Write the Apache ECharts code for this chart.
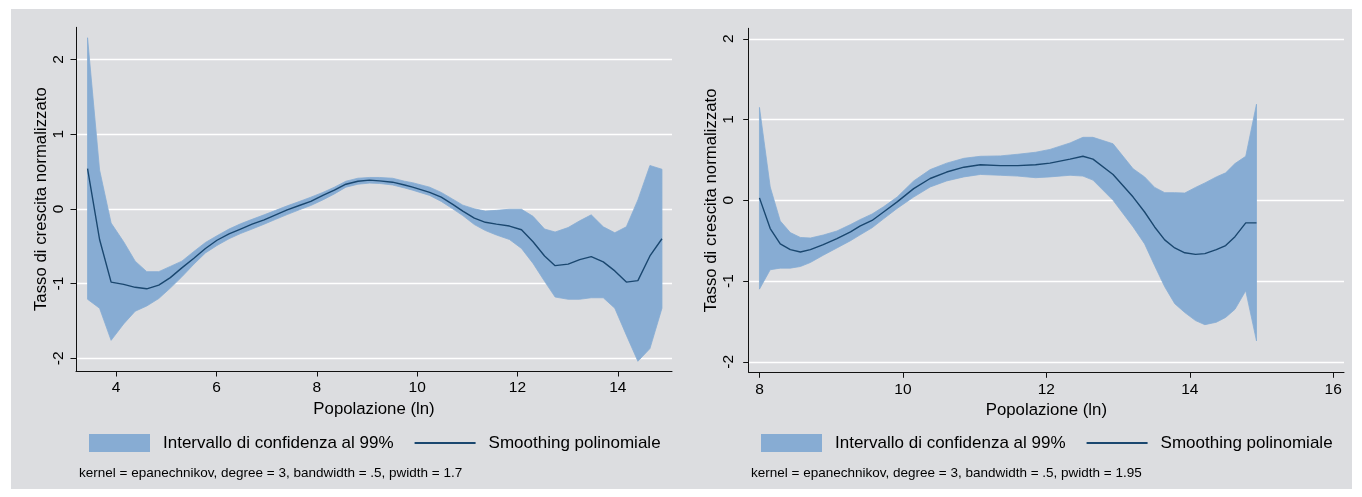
<!DOCTYPE html>
<html>
<head>
<meta charset="utf-8">
<script src="https://cdn.jsdelivr.net/npm/echarts@6/dist/echarts.min.js"></script>
<style>
  html, body { margin: 0; padding: 0; background: #ffffff; }
  #bg { position: absolute; left: 11px; top: 9px; width: 1341px; height: 480px; background: #dcdde0; }
  #chart { position: absolute; left: 0; top: 0; width: 1362px; height: 497px; }
</style>
</head>
<body>
<div id="bg"></div>
<div id="chart"></div>
<script>
// ---------- data ----------
const leftX = [3.43, 3.67, 3.90, 4.15, 4.38, 4.61, 4.85, 5.08, 5.31, 5.55, 5.78, 6.01, 6.25, 6.48, 6.71, 6.95, 7.18, 7.41, 7.65, 7.88,
  8.12, 8.35, 8.58, 8.82, 9.05, 9.25, 9.51, 9.75, 9.91, 10.25, 10.48, 10.71, 10.91, 11.14, 11.36, 11.58, 11.84, 12.08, 12.31, 12.54,
  12.75, 13.01, 13.24, 13.47, 13.71, 13.94, 14.17, 14.40, 14.64, 14.88];
const leftFit = [0.54, -0.41, -0.98, -1.01, -1.05, -1.07, -1.02, -0.92, -0.79, -0.66, -0.53, -0.42, -0.335, -0.27, -0.205, -0.147, -0.08, -0.013, 0.045, 0.10,
  0.18, 0.25, 0.33, 0.37, 0.385, 0.375, 0.357, 0.32, 0.29, 0.22, 0.156, 0.06, -0.03, -0.125, -0.18, -0.205, -0.23, -0.28, -0.44, -0.63,
  -0.76, -0.74, -0.68, -0.64, -0.71, -0.83, -0.98, -0.96, -0.63, -0.40];
const leftUpper = [2.29, 0.52, -0.19, -0.44, -0.70, -0.84, -0.84, -0.77, -0.70, -0.57, -0.45, -0.36, -0.27, -0.20, -0.14, -0.08, -0.02, 0.04, 0.098, 0.156,
  0.22, 0.29, 0.37, 0.41, 0.42, 0.42, 0.41, 0.37, 0.35, 0.29, 0.22, 0.13, 0.05, 0.0, -0.03, -0.02, -0.005, -0.005, -0.10, -0.27,
  -0.31, -0.25, -0.16, -0.08, -0.24, -0.32, -0.24, 0.12, 0.58, 0.53];
const leftLower = [-1.21, -1.33, -1.76, -1.54, -1.37, -1.30, -1.20, -1.06, -0.91, -0.74, -0.59, -0.49, -0.40, -0.33, -0.27, -0.205, -0.14, -0.076, -0.013, 0.045,
  0.12, 0.20, 0.29, 0.33, 0.345, 0.34, 0.32, 0.28, 0.25, 0.18, 0.10, 0.0, -0.09, -0.21, -0.29, -0.35, -0.41, -0.53, -0.73, -0.97,
  -1.18, -1.21, -1.21, -1.19, -1.19, -1.33, -1.69, -2.04, -1.87, -1.33];

const rightX = [8.00, 8.15, 8.29, 8.43, 8.57, 8.71, 8.89, 9.08, 9.27, 9.40, 9.57, 9.73, 9.92, 10.15, 10.38, 10.61, 10.85, 11.08, 11.36, 11.60,
  11.85, 12.05, 12.33, 12.51, 12.65, 12.93, 13.21, 13.37, 13.51, 13.65, 13.79, 13.93, 14.08, 14.21, 14.37, 14.50, 14.63, 14.78, 14.93];
const rightFit = [0.03, -0.35, -0.54, -0.61, -0.64, -0.61, -0.55, -0.475, -0.39, -0.32, -0.25, -0.145, -0.02, 0.145, 0.27, 0.35, 0.41, 0.44, 0.43, 0.43,
  0.44, 0.46, 0.51, 0.545, 0.51, 0.32, 0.04, -0.145, -0.33, -0.49, -0.59, -0.65, -0.67, -0.66, -0.61, -0.56, -0.45, -0.28, -0.28];
const rightUpper = [1.15, 0.165, -0.256, -0.40, -0.46, -0.467, -0.43, -0.38, -0.30, -0.24, -0.17, -0.08, 0.04, 0.24, 0.38, 0.46, 0.52, 0.545, 0.55, 0.57,
  0.595, 0.63, 0.71, 0.78, 0.78, 0.70, 0.39, 0.29, 0.16, 0.095, 0.095, 0.09, 0.16, 0.215, 0.29, 0.34, 0.455, 0.545, 1.19];
const rightLower = [-1.10, -0.86, -0.84, -0.84, -0.82, -0.77, -0.68, -0.59, -0.50, -0.43, -0.34, -0.23, -0.10, 0.04, 0.165, 0.24, 0.29, 0.32, 0.31, 0.30,
  0.28, 0.29, 0.31, 0.30, 0.25, 0.0, -0.33, -0.54, -0.81, -1.07, -1.28, -1.39, -1.49, -1.54, -1.51, -1.45, -1.35, -1.12, -1.74];

const xTicksLeft = [4, 6, 8, 10, 12, 14];
const xTicksRight = [8, 10, 12, 14, 16];
const yTicks = [-2, -1, 0, 1, 2];

const BAND_NAME = 'Intervallo di confidenza al 99%';
const FIT_NAME = 'Smoothing polinomiale';
const X_NAME = 'Popolazione (ln)';
const Y_NAME = 'Tasso di crescita normalizzato';
const NOTE_LEFT = 'kernel = epanechnikov, degree = 3, bandwidth = .5, pwidth = 1.7';
const NOTE_RIGHT = 'kernel = epanechnikov, degree = 3, bandwidth = .5, pwidth = 1.95';

// ---------- styling ----------
const FONT = '"Liberation Sans", Arial, Helvetica, sans-serif';
const BANDC = '#87acd3';
const NAVY = '#1a476f';

function pairs(xs, ys) { return xs.map((x, i) => [x, ys[i]]); }

function xAxis(gi, min, max, ticks) {
  return {
    type: 'value', gridIndex: gi, min: min, max: max,
    name: X_NAME, nameLocation: 'middle', nameGap: 28,
    nameTextStyle: { fontFamily: FONT, fontSize: 16.8, color: '#000' },
    axisLine: { show: true, onZero: false, lineStyle: { color: '#111', width: 1 } },
    axisTick: { show: true, length: 5.5, customValues: ticks, lineStyle: { color: '#111', width: 1 } },
    axisLabel: { customValues: ticks, margin: 9, fontFamily: FONT, fontSize: 15.5, color: '#000' },
    splitLine: { show: false }
  };
}
function yAxis(gi, min, max, margin, gap) {
  return {
    type: 'value', gridIndex: gi, min: min, max: max,
    name: Y_NAME, nameLocation: 'middle', nameGap: gap,
    nameTextStyle: { fontFamily: FONT, fontSize: 16.8, color: '#000' },
    axisLine: { show: true, onZero: false, lineStyle: { color: '#111', width: 1 } },
    axisTick: { show: true, length: 5.5, customValues: yTicks, lineStyle: { color: '#111', width: 1 } },
    axisLabel: { customValues: yTicks, rotate: 90, margin: margin, fontFamily: FONT, fontSize: 15.5, color: '#000' },
    splitLine: { show: true, lineStyle: { color: '#ffffff', width: 1.3 } }
  };
}
// confidence band: one polygon (upper edge forward, lower edge backward), placed through the axes' scales
function bandSeries(gi, xs, up, lo) {
  return {
    type: 'custom', name: BAND_NAME, xAxisIndex: gi, yAxisIndex: gi,
    data: pairs(xs, up), encode: { x: 0, y: 1 }, silent: true, z: 1,
    itemStyle: { color: BANDC },
    renderItem: function (params, api) {
      if (params.dataIndex !== 0) return;
      const pts = [];
      for (let i = 0; i < xs.length; i++) pts.push(api.coord([xs[i], up[i]]));
      for (let i = xs.length - 1; i >= 0; i--) pts.push(api.coord([xs[i], lo[i]]));
      return { type: 'polygon', shape: { points: pts },
        style: { fill: BANDC, stroke: BANDC, lineWidth: 0.8, lineJoin: 'miter' } };
    }
  };
}
function fitSeries(gi, xs, ys) {
  return { type: 'line', name: FIT_NAME, xAxisIndex: gi, yAxisIndex: gi, data: pairs(xs, ys),
    symbol: 'circle', showSymbol: false, silent: true,
    lineStyle: { color: NAVY, width: 1.4 }, itemStyle: { color: NAVY }, z: 3 };
}
function legend(left) {
  return {
    left: left, top: 434, orient: 'horizontal', padding: 0, itemWidth: 61, itemHeight: 18, itemGap: 20,
    selectedMode: false,
    textStyle: { fontFamily: FONT, fontSize: 17, color: '#000', padding: [0, 0, 0, 8] },
    data: [
      { name: BAND_NAME, icon: 'rect', itemStyle: { color: BANDC } },
      { name: FIT_NAME, itemStyle: { opacity: 0 } }
    ]
  };
}

const chart = echarts.init(document.getElementById('chart'), null, { renderer: 'canvas' });
chart.setOption({
  animation: false,
  backgroundColor: 'transparent',
  title: [
    { text: NOTE_LEFT, left: 79, top: 466, padding: 0, textStyle: { fontFamily: FONT, fontSize: 13.5, fontWeight: 'normal', color: '#000' } },
    { text: NOTE_RIGHT, left: 751, top: 466, padding: 0, textStyle: { fontFamily: FONT, fontSize: 13.5, fontWeight: 'normal', color: '#000' } }
  ],
  legend: [legend(89), legend(761)],
  grid: [
    { left: 76, top: 27.3, width: 596, height: 343.7 },
    { left: 748.7, top: 28.3, width: 595.3, height: 344 }
  ],
  xAxis: [xAxis(0, 3.2, 15.08, xTicksLeft), xAxis(1, 7.85, 16.15, xTicksRight)],
  yAxis: [yAxis(0, -2.17, 2.43, 9, 26), yAxis(1, -2.13, 2.13, 12, 28)],
  series: [
    bandSeries(0, leftX, leftUpper, leftLower),
    fitSeries(0, leftX, leftFit),
    bandSeries(1, rightX, rightUpper, rightLower),
    fitSeries(1, rightX, rightFit)
  ]
});
</script>
</body>
</html>
